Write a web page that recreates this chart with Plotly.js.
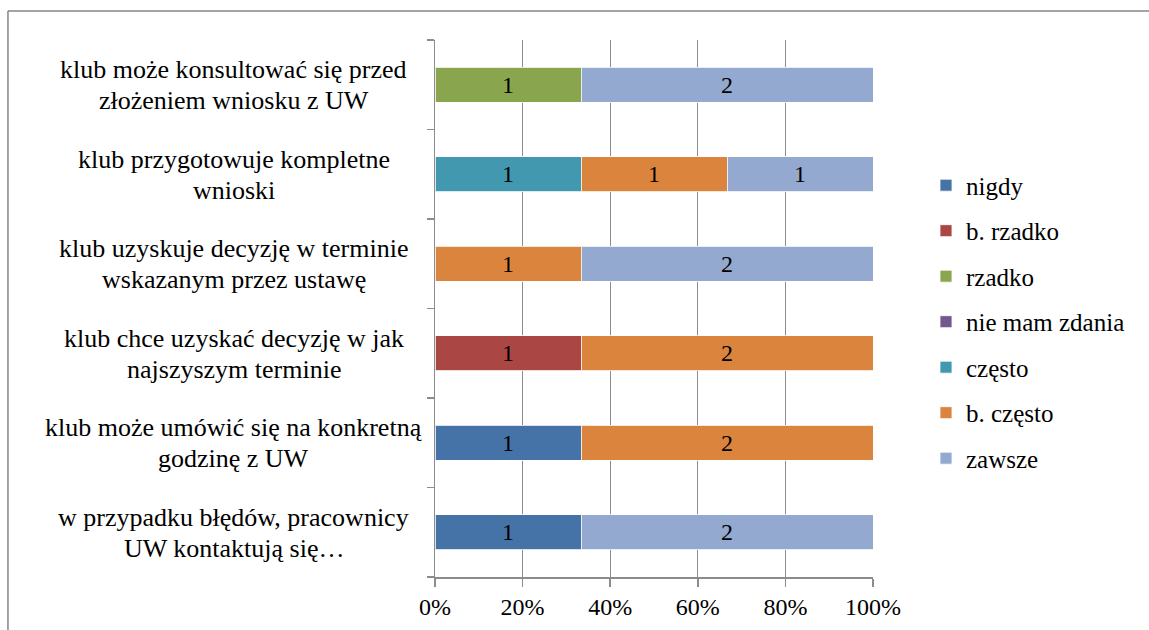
<!DOCTYPE html>
<html>
<head>
<meta charset="utf-8">
<script src="https://cdn.plot.ly/plotly-3.0.1.min.js"></script>
<style>html,body{margin:0;padding:0;background:#fff;}#chart{width:1149px;height:630px;}</style>
</head>
<body>
<div id="chart"></div>
<script>
// Categories listed bottom to top
const categories = [
  "w przypadku błędów, pracownicy UW kontaktują się…",
  "klub może umówić się na konkretną godzinę z UW",
  "klub chce uzyskać decyzję w jak najszyszym terminie",
  "klub uzyskuje decyzję w terminie wskazanym przez ustawę",
  "klub przygotowuje kompletne wnioski",
  "klub może konsultować się przed złożeniem wniosku z UW"
];
const labelLine1 = [
  "w przypadku błędów, pracownicy",
  "klub może umówić się na konkretną",
  "klub chce uzyskać decyzję w jak",
  "klub uzyskuje decyzję w terminie",
  "klub przygotowuje kompletne",
  "klub może konsultować się przed"
];
const labelLine2 = [
  "UW kontaktują się…",
  "godzinę z UW",
  "najszyszym terminie",
  "wskazanym przez ustawę",
  "wnioski",
  "złożeniem wniosku z UW"
];
const seriesNames = ["nigdy", "b. rzadko", "rzadko", "nie mam zdania", "często", "b. często", "zawsze"];
const nigdy        = [1, 1, 0, 0, 0, 0];
const bRzadko      = [0, 0, 1, 0, 0, 0];
const rzadko       = [0, 0, 0, 0, 0, 1];
const nieMamZdania = [0, 0, 0, 0, 0, 0];
const czesto       = [0, 0, 0, 0, 1, 0];
const bCzesto      = [0, 2, 2, 1, 1, 0];
const zawsze       = [2, 0, 0, 2, 1, 2];
const seriesValues = [nigdy, bRzadko, rzadko, nieMamZdania, czesto, bCzesto, zawsze];
const colors = ["#4572A7", "#AA4643", "#89A54E", "#71588F", "#4198AF", "#DB843D", "#93A9CF"];

const FONT = "Liberation Serif";

const traces = seriesNames.map((name, i) => ({
  type: "bar",
  orientation: "h",
  name: name,
  y: categories,
  x: seriesValues[i],
  text: seriesValues[i].map(v => v ? String(v) : ""),
  textposition: "inside",
  insidetextanchor: "middle",
  textangle: 0,
  textfont: {family: FONT, size: 24, color: "#000"},
  marker: {color: colors[i], line: {color: "rgba(255,255,255,0.8)", width: 1}},
  legendgroup: "g" + i,
  hoverinfo: "skip"
}));

const annotations = [];
categories.forEach((c, i) => {
  annotations.push({xref: "paper", yref: "y", x: -0.459, y: c, xanchor: "center", yanchor: "middle",
    text: labelLine1[i], showarrow: false, yshift: 15, font: {family: FONT, size: 26, color: "#000"}});
  annotations.push({xref: "paper", yref: "y", x: -0.459, y: c, xanchor: "center", yanchor: "middle",
    text: labelLine2[i], showarrow: false, yshift: -16, font: {family: FONT, size: 26, color: "#000"}});
});

const layout = {
  width: 1149, height: 630,
  margin: {l: 435, r: 276, t: 40, b: 53, autoexpand: false},
  paper_bgcolor: "#fff", plot_bgcolor: "#fff",
  font: {family: FONT, color: "#000"},
  barmode: "stack", barnorm: "percent", bargap: 0.61,
  showlegend: true,
  legend: {x: 1.121, xanchor: "left", y: 0.772, yanchor: "top", traceorder: "grouped", tracegroupgap: 10,
    font: {family: FONT, size: 25, color: "#000"}, bgcolor: "rgba(0,0,0,0)", itemwidth: 30},
  xaxis: {range: [0, 100], dtick: 20, tick0: 0, ticksuffix: "%", showgrid: true, gridcolor: "#8c8c8c", gridwidth: 1.3,
    zeroline: false, showline: true, linecolor: "#8c8c8c", linewidth: 1.5, ticks: "outside", ticklen: 8,
    tickcolor: "#8c8c8c", tickwidth: 1.5, tickfont: {family: FONT, size: 24, color: "#000"}, fixedrange: true},
  yaxis: {type: "category", categoryorder: "array", categoryarray: categories, range: [-0.5, 5.5],
    showticklabels: false, showgrid: false, zeroline: false, showline: true, linecolor: "#8c8c8c", linewidth: 1.5,
    ticks: "outside", tickson: "boundaries", ticklen: 7, tickcolor: "#8c8c8c", tickwidth: 1.5, fixedrange: true},
  annotations: annotations,
  shapes: [
    {type: "line", xref: "paper", yref: "paper", x0: -0.975, x1: 1.7, y0: 1.054, y1: 1.054, line: {color: "#868686", width: 1.5}},
    {type: "line", xref: "paper", yref: "paper", x0: -0.975, x1: -0.975, y0: 1.054, y1: -0.2, line: {color: "#868686", width: 1.5}}
  ]
};

Plotly.newPlot("chart", traces, layout, {displayModeBar: false, staticPlot: true});
</script>
</body>
</html>
